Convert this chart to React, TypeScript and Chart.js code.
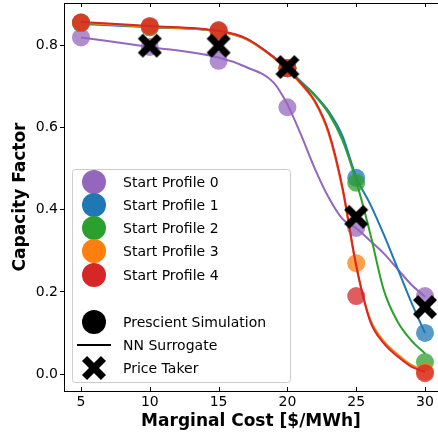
import React, { useEffect, useRef } from "react";
import { Chart, registerables } from "chart.js";
Chart.register(...registerables);

// ---- data ----
const simX = [5, 10, 15, 20, 25, 30];
const sim0 = [0.82, 0.797, 0.763, 0.65, 0.356, 0.19];
const sim1 = [0.855, 0.845, 0.835, 0.745, 0.478, 0.1];
const sim2 = [0.855, 0.845, 0.835, 0.745, 0.466, 0.029];
const sim3 = [0.856, 0.846, 0.836, 0.745, 0.27, 0.006];
const sim4 = [0.857, 0.848, 0.838, 0.745, 0.19, 0.002];

const takerX = [10, 15, 20, 25, 30];
const taker = [0.8, 0.8, 0.748, 0.383, 0.163];

const curveX = [5, 10, 15, 17, 19, 20, 21, 22, 23, 24, 25, 26, 27, 28, 29, 30];
const nn0 = [0.82, 0.797, 0.771, 0.748, 0.71, 0.657, 0.582, 0.5, 0.43, 0.378, 0.355, 0.325, 0.294, 0.256, 0.218, 0.188];
const nn1 = [0.853, 0.845, 0.835, 0.817, 0.773, 0.745, 0.712, 0.68, 0.64, 0.58, 0.48, 0.415, 0.34, 0.258, 0.175, 0.1];
const nn2 = [0.855, 0.846, 0.835, 0.816, 0.772, 0.744, 0.71, 0.678, 0.635, 0.57, 0.47, 0.345, 0.205, 0.128, 0.082, 0.05];
const nn3 = [0.856, 0.846, 0.835, 0.816, 0.771, 0.742, 0.706, 0.662, 0.585, 0.45, 0.262, 0.135, 0.08, 0.048, 0.022, 0.008];
const nn4 = [0.858, 0.848, 0.836, 0.818, 0.772, 0.742, 0.708, 0.665, 0.59, 0.455, 0.265, 0.13, 0.075, 0.043, 0.018, 0.005];

const profileLabels = ["Start Profile 0", "Start Profile 1", "Start Profile 2", "Start Profile 3", "Start Profile 4"];
const extraLabels = ["Prescient Simulation", "NN Surrogate", "Price Taker"];
const xTicks = [5, 10, 15, 20, 25, 30];
const yTicks = [0, 0.2, 0.4, 0.6, 0.8];

const COLORS = ["#9467bd", "#1f77b4", "#2ca02c", "#ff7f0e", "#d62728"];
const FONT = "'DejaVu Sans', sans-serif";

function rgba(hex: string, a: number) {
  const n = parseInt(hex.slice(1), 16);
  return `rgba(${(n >> 16) & 255},${(n >> 8) & 255},${n & 255},${a})`;
}

function drawX(ctx: CanvasRenderingContext2D, cx: number, cy: number, half: number, t: number) {
  const L = half * Math.SQRT2 - t;
  ctx.save();
  ctx.translate(cx, cy);
  ctx.rotate(Math.PI / 4);
  ctx.fillStyle = "#000";
  ctx.fillRect(-L, -t, 2 * L, 2 * t);
  ctx.fillRect(-t, -L, 2 * t, 2 * L);
  ctx.restore();
}

function makeXMarker() {
  const c = document.createElement("canvas");
  c.width = 26;
  c.height = 26;
  const ctx = c.getContext("2d")!;
  drawX(ctx, 13, 13, 12, 3.6);
  return c;
}

const framePlugin = {
  id: "frame",
  afterDatasetsDraw(chart: any) {
    const { ctx, chartArea } = chart;
    const xs = chart.scales.x;
    ctx.save();
    ctx.strokeStyle = "#000";
    ctx.lineWidth = 1;
    ctx.beginPath();
    ctx.moveTo(chartArea.left, chartArea.top + 0.5);
    ctx.lineTo(chartArea.right, chartArea.top + 0.5);
    xTicks.forEach((v) => {
      const px = Math.round(xs.getPixelForValue(v)) + 0.5;
      ctx.moveTo(px, chartArea.top);
      ctx.lineTo(px, chartArea.top + 4);
      ctx.moveTo(px, chartArea.bottom);
      ctx.lineTo(px, chartArea.bottom - 4);
    });
    ctx.stroke();
    ctx.restore();
  },
};

const legendPlugin = {
  id: "customLegend",
  afterDraw(chart: any) {
    const { ctx } = chart;
    ctx.save();
    const bx = 72.5, by = 169.5, bw = 218, bh = 213, r = 3;
    ctx.beginPath();
    ctx.moveTo(bx + r, by);
    ctx.arcTo(bx + bw, by, bx + bw, by + bh, r);
    ctx.arcTo(bx + bw, by + bh, bx, by + bh, r);
    ctx.arcTo(bx, by + bh, bx, by, r);
    ctx.arcTo(bx, by, bx + bw, by, r);
    ctx.closePath();
    ctx.fillStyle = "rgba(255,255,255,0.8)";
    ctx.fill();
    ctx.strokeStyle = "#cccccc";
    ctx.lineWidth = 1;
    ctx.stroke();

    const mx = 94, tx = 123;
    ctx.font = `14px ${FONT}`;
    ctx.textBaseline = "middle";
    ctx.textAlign = "left";
    const rows = [182, 205, 228, 251, 275];
    profileLabels.forEach((lab, i) => {
      ctx.beginPath();
      ctx.arc(mx, rows[i], 12, 0, Math.PI * 2);
      ctx.fillStyle = COLORS[i];
      ctx.fill();
      ctx.fillStyle = "#000";
      ctx.fillText(lab, tx, rows[i] + 1);
    });
    const rows2 = [322, 345, 368];
    ctx.beginPath();
    ctx.arc(mx, rows2[0], 12, 0, Math.PI * 2);
    ctx.fillStyle = "#000";
    ctx.fill();
    ctx.fillText(extraLabels[0], tx, rows2[0] + 1);
    ctx.beginPath();
    ctx.moveTo(77, rows2[1]);
    ctx.lineTo(111, rows2[1]);
    ctx.strokeStyle = "#000";
    ctx.lineWidth = 2;
    ctx.stroke();
    ctx.fillText(extraLabels[1], tx, rows2[1] + 1);
    drawX(ctx, mx, rows2[2], 12, 3.6);
    ctx.fillStyle = "#000";
    ctx.fillText(extraLabels[2], tx, rows2[2] + 1);
    ctx.restore();
  },
};

function zeroPad(s: any) {
  s.paddingLeft = 0;
  s.paddingRight = 0;
  s.paddingTop = 0;
  s.paddingBottom = 0;
}

export default function App() {
  const ref = useRef<HTMLCanvasElement>(null);
  useEffect(() => {
    document.body.style.margin = "0";
    const sims = [sim0, sim1, sim2, sim3, sim4];
    const nns = [nn0, nn1, nn2, nn3, nn4];
    const datasets: any[] = [];
    for (let i = 0; i < 5; i++) {
      datasets.push({
        label: profileLabels[i],
        data: simX.map((x, k) => ({ x, y: sims[i][k] })),
        showLine: false,
        pointRadius: 9,
        pointBorderWidth: 0,
        pointBackgroundColor: rgba(COLORS[i], 0.75),
        pointBorderColor: "rgba(0,0,0,0)",
        order: 20 - 2 * i,
      });
      datasets.push({
        label: "NN " + i,
        data: curveX.map((x, k) => ({ x, y: nns[i][k] })),
        showLine: true,
        borderColor: COLORS[i],
        borderWidth: 2,
        pointRadius: 0,
        fill: false,
        cubicInterpolationMode: "monotone",
        order: 19 - 2 * i,
      });
    }
    datasets.push({
      label: "Price Taker",
      data: takerX.map((x, k) => ({ x, y: taker[k] })),
      showLine: false,
      pointStyle: makeXMarker(),
      pointRadius: 12,
      order: 0,
    });

    const chart = new Chart(ref.current!, {
      type: "line",
      data: { datasets },
      options: {
        animation: false,
        responsive: false,
        maintainAspectRatio: false,
        layout: { autoPadding: false, padding: { top: 3, right: 0, left: 0, bottom: 0 } },
        plugins: { legend: { display: false }, tooltip: { enabled: false } },
        scales: {
          x: {
            type: "linear",
            min: 3.765,
            max: 30.945,
            afterFit: (s: any) => { s.height = 49; zeroPad(s); },
            afterBuildTicks: (s: any) => { s.ticks = xTicks.map((v) => ({ value: v })); },
            grid: { display: true, drawOnChartArea: false, drawTicks: false },
            border: { display: true, color: "#000", width: 1 },
            ticks: {
              color: "#000",
              font: { family: FONT, size: 14 },
              padding: 3,
              maxRotation: 0,
              callback: (v: any) => String(v),
            },
            title: {
              display: true,
              text: "Marginal Cost [$/MWh]",
              color: "#000",
              font: { family: FONT, size: 17, weight: "bold" },
              padding: { top: 0, bottom: 8 },
            },
          },
          y: {
            type: "linear",
            min: -0.0414,
            max: 0.904,
            afterFit: (s: any) => { s.width = 64; zeroPad(s); },
            afterBuildTicks: (s: any) => { s.ticks = yTicks.map((v) => ({ value: v })); },
            grid: { display: true, drawOnChartArea: false, drawTicks: true, tickLength: 4, color: "#000" },
            border: { display: true, color: "#000", width: 1 },
            ticks: {
              color: "#000",
              font: { family: FONT, size: 14 },
              padding: 2,
              callback: (v: any) => Number(v).toFixed(1),
            },
            title: {
              display: true,
              text: "Capacity Factor",
              color: "#000",
              font: { family: FONT, size: 17, weight: "bold" },
              padding: { top: 10, bottom: 0 },
            },
          },
        },
      } as any,
      plugins: [framePlugin, legendPlugin],
    });
    return () => chart.destroy();
  }, []);
  return <canvas ref={ref} width={438} height={440} style={{ display: "block" }} />;
}
